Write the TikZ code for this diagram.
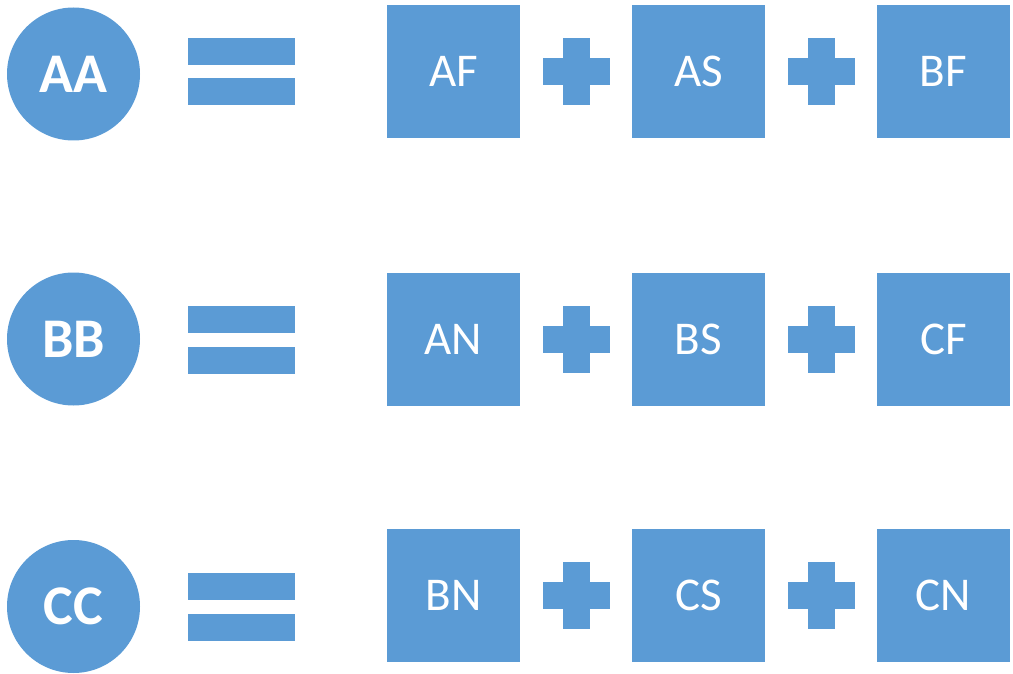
\documentclass[tikz,border=0pt]{standalone}
\usepackage{fontspec}
\setmainfont{Carlito}
\definecolor{tileblue}{HTML}{5B9BD5}
\tikzset{
  unit/.style={circle, fill=tileblue, draw=none, minimum size=133pt, inner sep=0pt,
    text=white, font=\fontsize{56}{56}\selectfont\bfseries},
  tile/.style={rectangle, fill=tileblue, draw=none, minimum size=133pt, inner sep=0pt,
    text=white, font=\fontsize{47}{47}\selectfont},
  bar/.style={fill=tileblue, draw=none}
}
% equals sign centred at (#1,#2)
\newcommand{\eqsign}[2]{%
  \fill[bar] (#1-53.5,#2-33.5) rectangle (#1+53.5,#2-6.5);
  \fill[bar] (#1-53.5,#2+7) rectangle (#1+53.5,#2+34);
}
% plus sign centred at (#1,#2)
\newcommand{\plussign}[2]{%
  \fill[bar] (#1-33.5,#2-13.5) rectangle (#1+33.5,#2+13.5);
  \fill[bar] (#1-13.5,#2-33.5) rectangle (#1+13.5,#2+33.5);
}
\begin{document}
\begin{tikzpicture}[x=1pt,y=-1pt]
\useasboundingbox (0,0) rectangle (1013,674);

% row 1
\node[unit] (AA) at (73.5,74) {AA};
\eqsign{241.5}{71.5}
\node[tile] (AF) at (453.5,71.5) {AF};
\plussign{576}{71.5}
\node[tile] (AS) at (698.5,71.5) {AS};
\plussign{821.5}{71.5}
\node[tile] (BF) at (943.5,71.5) {BF};

% row 2
\node[unit] (BB) at (73.5,339) {BB};
\eqsign{241.5}{339.5}
\node[tile] (AN) at (453.5,339) {AN};
\plussign{576}{339.5}
\node[tile] (BS) at (698.5,339) {BS};
\plussign{821.5}{339.5}
\node[tile] (CF) at (943.5,339) {CF};

% row 3
\node[unit] (CC) at (73.5,606.5) {CC};
\eqsign{241.5}{606.5}
\node[tile] (BN) at (453.5,595.5) {BN};
\plussign{576}{595.5}
\node[tile] (CS) at (698.5,595.5) {CS};
\plussign{821.5}{595.5}
\node[tile] (CN) at (943.5,595.5) {CN};
\end{tikzpicture}
\end{document}
